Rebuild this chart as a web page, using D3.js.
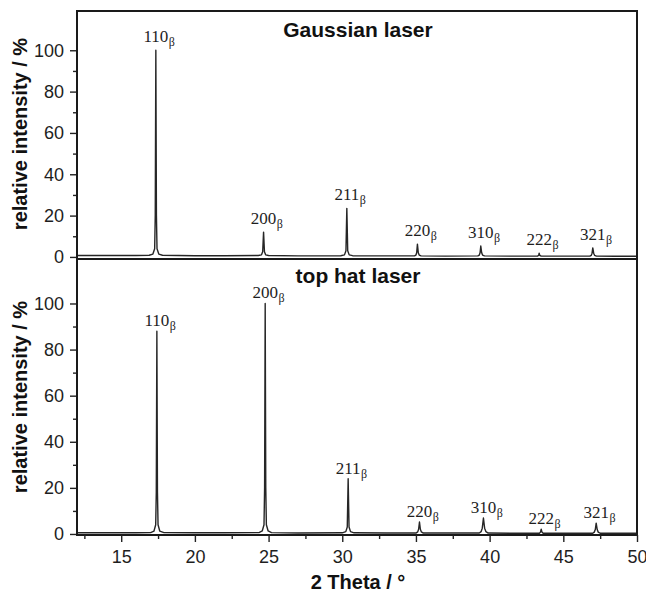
<!DOCTYPE html>
<html>
<head>
<meta charset="utf-8">
<script src="https://cdn.jsdelivr.net/npm/d3@7"></script>
<style>
  body { margin: 0; background: #fff; }
  svg { display: block; }
  .tick text { font-family: "Liberation Sans", Arial, sans-serif; font-size: 18px; fill: #1e1e1e; }
  .tick line { stroke: #222; stroke-width: 1.4; }
  .title { font-family: "Liberation Sans", Arial, sans-serif; font-weight: bold; fill: #111; }
  .hkl { font-family: "Liberation Serif", "Times New Roman", serif; fill: #1e1e1e; }
</style>
</head>
<body>
<svg id="chart" width="646" height="596"></svg>
<script>
// reflections labelled in both patterns
const reflections = ['110', '200', '211', '220', '310', '222', '321'];

// peak positions (2 theta, deg) and intensities (%)
const gaussianPeakTheta = [17.35, 24.66, 30.31, 35.10, 39.40, 43.36, 47.00];
const gaussianPeakHeight = [100, 12, 23.5, 6.2, 5.3, 1.8, 4.4];
const topHatPeakTheta = [17.42, 24.77, 30.40, 35.24, 39.58, 43.50, 47.23];
const topHatPeakHeight = [88, 100, 24, 5.2, 6.9, 2.1, 4.7];

// traced patterns: [2 theta, relative intensity]
const gaussianPattern = [
  [12.0, 0.7], [14.0, 0.7], [16.0, 0.7], [16.9, 0.8], [17.15, 1.4], [17.27, 4], [17.31, 20],
  [17.35, 100], [17.39, 20], [17.43, 4], [17.55, 1.4], [17.8, 0.8],
  [20.0, 0.6], [22.0, 0.6], [24.3, 0.7], [24.52, 1.0], [24.6, 2.5], [24.66, 12], [24.72, 2.5],
  [24.8, 1.0], [25.0, 0.7],
  [27.0, 0.5], [29.9, 0.6], [30.15, 1.0], [30.25, 3], [30.31, 23.5], [30.37, 3], [30.47, 1.0],
  [30.7, 0.6],
  [33.0, 0.5], [34.9, 0.5], [35.0, 0.9], [35.05, 2], [35.10, 6.2], [35.16, 2], [35.22, 0.9],
  [35.35, 0.5],
  [37.0, 0.4], [39.2, 0.5], [39.3, 0.9], [39.35, 2], [39.40, 5.3], [39.46, 2], [39.52, 0.9],
  [39.65, 0.5],
  [41.5, 0.4], [43.25, 0.4], [43.33, 0.8], [43.36, 1.8], [43.40, 0.8], [43.5, 0.4],
  [45.0, 0.4], [46.8, 0.4], [46.9, 0.8], [46.95, 1.8], [47.00, 4.4], [47.06, 1.8], [47.12, 0.8],
  [47.25, 0.4], [48.5, 0.3], [50.0, 0.3]
];
const topHatPattern = [
  [12.0, 0.5], [14.0, 0.5], [16.0, 0.5], [17.0, 0.6], [17.22, 1.2], [17.34, 4], [17.38, 18],
  [17.42, 88], [17.46, 18], [17.50, 4], [17.62, 1.2], [17.9, 0.6],
  [20.0, 0.5], [22.0, 0.5], [24.35, 0.6], [24.57, 1.3], [24.69, 4], [24.73, 20], [24.77, 100],
  [24.81, 20], [24.85, 4], [24.97, 1.3], [25.2, 0.6],
  [27.0, 0.4], [30.0, 0.5], [30.24, 1.0], [30.34, 3], [30.40, 24], [30.46, 3], [30.56, 1.0],
  [30.8, 0.5],
  [33.0, 0.4], [35.0, 0.4], [35.12, 0.9], [35.18, 2], [35.24, 5.2], [35.30, 2], [35.37, 0.9],
  [35.5, 0.4],
  [37.5, 0.4], [39.3, 0.4], [39.42, 1.0], [39.50, 2.5], [39.58, 6.9], [39.66, 2.5], [39.75, 1.0],
  [39.9, 0.4],
  [42.0, 0.3], [43.38, 0.3], [43.45, 0.8], [43.50, 2.1], [43.55, 0.8], [43.63, 0.3],
  [45.0, 0.3], [47.0, 0.3], [47.1, 0.8], [47.17, 1.9], [47.23, 4.7], [47.30, 1.9], [47.37, 0.8],
  [47.5, 0.3], [49.0, 0.3], [50.0, 0.3]
];

const xMajor = [15, 20, 25, 30, 35, 40, 45, 50];
const xMinor = [12.5, 17.5, 22.5, 27.5, 32.5, 37.5, 42.5, 47.5];
const yMajor = [0, 20, 40, 60, 80, 100];
const yMinor = [10, 30, 50, 70, 90];

const svg = d3.select('#chart');
const left = 77, right = 637;

const x = d3.scaleLinear().domain([12, 50]).range([left, right]);

const panels = [
  { title: 'Gaussian laser', top: 11, bottom: 259, domain: [-1, 119], data: gaussianPattern,
    peakTheta: gaussianPeakTheta, peakHeight: gaussianPeakHeight, labelGap: 8, titleY: 37 },
  { title: 'top hat laser', top: 259, bottom: 535, domain: [-0.45, 119.3], data: topHatPattern,
    peakTheta: topHatPeakTheta, peakHeight: topHatPeakHeight, labelGap: 5, titleY: 283 }
];

panels.forEach((p) => {
  const y = d3.scaleLinear().domain(p.domain).range([p.bottom, p.top]);

  // y ticks, minor then major
  svg.append('g')
    .attr('transform', `translate(${left},0)`)
    .call(d3.axisLeft(y).tickValues(yMinor).tickSize(4).tickFormat(''))
    .call(g => g.select('.domain').remove());
  svg.append('g')
    .attr('transform', `translate(${left},0)`)
    .call(d3.axisLeft(y).tickValues(yMajor).tickSize(7).tickPadding(6))
    .call(g => g.select('.domain').remove());

  // pattern
  const line = d3.line().x(d => x(d[0])).y(d => y(d[1]));
  svg.append('path')
    .datum(p.data)
    .attr('d', line)
    .attr('fill', 'none')
    .attr('stroke', '#262626')
    .attr('stroke-width', 1.4)
    .attr('stroke-linejoin', 'round');

  // reflection labels, digits centred on the peak, beta as subscript
  reflections.forEach((r, i) => {
    const px = x(p.peakTheta[i]);
    const py = y(p.peakHeight[i]) - p.labelGap;
    const t = svg.append('text')
      .attr('class', 'hkl')
      .attr('x', px)
      .attr('y', py)
      .attr('text-anchor', 'middle')
      .attr('font-size', 17)
      .text(r);
    const w = t.node().getComputedTextLength();
    svg.append('text')
      .attr('class', 'hkl')
      .attr('x', px + w / 2 + 0.5)
      .attr('y', py + 4)
      .attr('font-size', 12)
      .text('β');
  });

  // frame
  svg.append('rect')
    .attr('x', left)
    .attr('y', p.top)
    .attr('width', right - left)
    .attr('height', p.bottom - p.top)
    .attr('fill', 'none')
    .attr('stroke', '#1a1a1a')
    .attr('stroke-width', 2);

  svg.append('text')
    .attr('class', 'title')
    .attr('x', (left + right) / 2 + 1)
    .attr('y', p.titleY)
    .attr('text-anchor', 'middle')
    .attr('font-size', 21)
    .text(p.title);

  svg.append('text')
    .attr('class', 'title')
    .attr('transform', `translate(27,${(p.top + p.bottom) / 2 + (p.top < 100 ? -1 : 0)}) rotate(-90)`)
    .attr('text-anchor', 'middle')
    .attr('font-size', 20)
    .text('relative intensity / %');
});

// x axis under the lower panel
const xBase = panels[1].bottom;
svg.append('g')
  .attr('transform', `translate(0,${xBase})`)
  .call(d3.axisBottom(x).tickValues(xMinor).tickSize(4).tickFormat(''))
  .call(g => g.select('.domain').remove());
svg.append('g')
  .attr('transform', `translate(0,${xBase})`)
  .call(d3.axisBottom(x).tickValues(xMajor).tickSize(7).tickPadding(8))
  .call(g => g.select('.domain').remove());

svg.append('text')
  .attr('class', 'title')
  .attr('x', 358)
  .attr('y', 589)
  .attr('text-anchor', 'middle')
  .attr('font-size', 20)
  .text('2 Theta / °');
</script>
</body>
</html>
